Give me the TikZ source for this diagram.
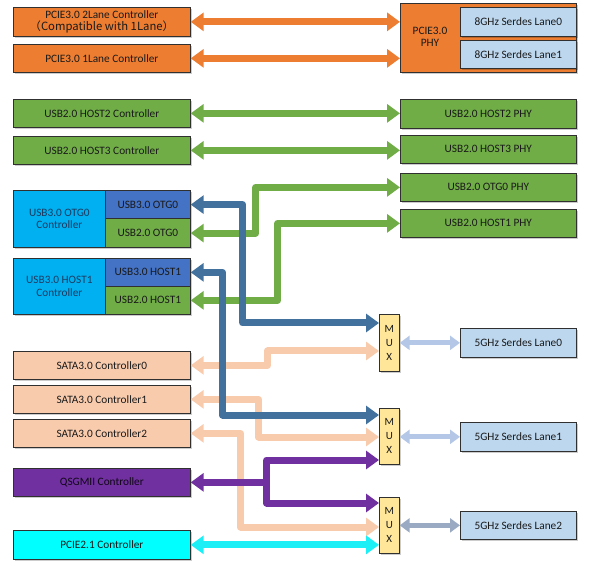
\documentclass[tikz,border=0pt]{standalone}
\usepackage{fontspec}
\setmainfont{Carlito}
\newfontfamily\cjk{Noto Sans CJK SC}
\usetikzlibrary{arrows.meta,shadows}
\definecolor{orng}{HTML}{ED7D31}
\definecolor{grn}{HTML}{70AD47}
\definecolor{lanef}{HTML}{BDD7EE}
\definecolor{cyanb}{HTML}{00B0F0}
\definecolor{blu}{HTML}{4472C4}
\definecolor{bluearr}{HTML}{41719C}
\definecolor{peach}{HTML}{F8CBAD}
\definecolor{purp}{HTML}{7030A0}
\definecolor{cynbox}{HTML}{00FFFF}
\definecolor{cynarr}{HTML}{1CEFF6}
\definecolor{muxf}{HTML}{FFE699}
\definecolor{lanearr}{HTML}{B4C7E7}
\definecolor{lanearrd}{HTML}{9AAAC2}
\definecolor{bord}{HTML}{303030}
\definecolor{navy}{HTML}{1F3A60}
\definecolor{txt}{HTML}{1A1A1A}
\begin{document}
\begin{tikzpicture}[x=1pt,y=-1pt,
  font=\fontsize{11.3}{12.5}\selectfont,
  box/.style={draw=bord, line width=0.7pt, inner sep=0pt, anchor=north west,
    align=center, text=txt,
    drop shadow={shadow xshift=1.2pt, shadow yshift=-1.2pt, opacity=0.2, fill=black}},
  sz/.style 2 args={minimum width=#1pt, minimum height=#2pt},
  bus/.style={line width=7pt, line join=round,
    {Triangle[width=18pt,length=13pt]}-{Triangle[width=18pt,length=13pt]}},
  onebus/.style={line width=7pt, line join=round, -{Triangle[width=18pt,length=13pt]}},
  lanebus/.style={line width=5pt,
    {Triangle[width=14pt,length=10pt]}-{Triangle[width=14pt,length=10pt]}},
  muxbox/.style={box, fill=muxf, sz={20}{56}, font=\fontsize{11}{14}\selectfont}
]
\useasboundingbox (0,0) rectangle (592,569);

% left column
\node[box, fill=orng, sz={177}{29}] (pcie2) at (13,7)
  {PCIE3.0 2Lane Controller\\\cjk{（}Compatible with 1Lane\cjk{）}};
\node[box, fill=orng, sz={177}{28}] (pcie1) at (13,44) {PCIE3.0 1Lane Controller};
\node[box, fill=grn, sz={177}{28}] (h2c) at (13,99) {USB2.0 HOST2 Controller};
\node[box, fill=grn, sz={177}{28}] (h3c) at (13,136) {USB2.0 HOST3 Controller};

\node[box, fill=cyanb, sz={92}{57}, text=navy] (otgc) at (13,190) {USB3.0 OTG0\\Controller};
\node[box, fill=blu, sz={85}{28.5}] (u3otg) at (105,190) {USB3.0 OTG0};
\node[box, fill=grn, sz={85}{28.5}] (u2otg) at (105,218.5) {USB2.0 OTG0};

\node[box, fill=cyanb, sz={92}{56}, text=navy] (h1c) at (13,258) {USB3.0 HOST1\\Controller};
\node[box, fill=blu, sz={85}{28}] (u3h1) at (105,258) {USB3.0 HOST1};
\node[box, fill=grn, sz={85}{28}] (u2h1) at (105,286) {USB2.0 HOST1};

\node[box, fill=peach, sz={177}{28}] (sata0) at (13,351) {SATA3.0 Controller0};
\node[box, fill=peach, sz={177}{28}] (sata1) at (13,385) {SATA3.0 Controller1};
\node[box, fill=peach, sz={177}{28}] (sata2) at (13,419) {SATA3.0 Controller2};
\node[box, fill=purp, sz={177}{28}, text=black!85!purp] (qsg) at (13,468) {QSGMII Controller};
\node[box, fill=cynbox, sz={177}{29}] (pcie21) at (13,530) {PCIE2.1 Controller};

% right column
\node[box, fill=orng, sz={176}{69}] (phy) at (400,3) {};
\node[align=center, text=txt, inner sep=0pt] (phylbl) at (430,37) {PCIE3.0\\PHY};
\node[box, fill=lanef, sz={116}{29}] (s8l0) at (460,7) {8GHz Serdes Lane0};
\node[box, fill=lanef, sz={116}{28}] (s8l1) at (460,40) {8GHz Serdes Lane1};

\node[box, fill=grn, sz={176}{29}] (h2p) at (400,99) {USB2.0 HOST2 PHY};
\node[box, fill=grn, sz={176}{28}] (h3p) at (400,135) {USB2.0 HOST3 PHY};
\node[box, fill=grn, sz={176}{28}] (otgp) at (400,173) {USB2.0 OTG0 PHY};
\node[box, fill=grn, sz={176}{28}] (h1p) at (400,209) {USB2.0 HOST1 PHY};

\node[muxbox, sz={20}{57}] (mux0) at (379,314) {M\\U\\X};
\node[muxbox] (mux1) at (379,408) {M\\U\\X};
\node[muxbox] (mux2) at (379,497) {M\\U\\X};

\node[box, fill=lanef, sz={116}{29}] (l0) at (460,328) {5GHz Serdes Lane0};
\node[box, fill=lanef, sz={116}{29}] (l1) at (460,422) {5GHz Serdes Lane1};
\node[box, fill=lanef, sz={116}{28}] (l2) at (460,511) {5GHz Serdes Lane2};

% orange
\draw[bus, color=orng] (pcie2.east) -- (pcie2.east -| phy.west);
\draw[bus, color=orng] (pcie1.east) -- (pcie1.east -| phy.west);

% peach
\draw[bus, color=peach] (sata0.east) -- ++(77,0) |- (mux0.west |- 0,351);
\draw[bus, color=peach] (sata1.east) -- ++(68,0) |- (mux1.west |- 0,437);
\draw[bus, color=peach] (sata2.east) -- ++(50,0) |- (mux2.west |- 0,527);

% green
\draw[bus, color=grn] (h2c.east) -- (h2c.east -| h2p.west);
\draw[bus, color=grn] (h3c.east) -- (h3c.east -| h3p.west);
\draw[bus, color=grn] (u2otg.east) -- ++(65,0) |- (otgp.west);
\draw[bus, color=grn] (u2h1.east) -- ++(87,0) |- (h1p.west);

% purple
\path (qsg.east) ++(76,0) coordinate (qj);
\draw[bus, color=purp] (qsg.east) -- (qj) |- (mux1.west |- 0,460);
\draw[onebus, color=purp] (qj) |- (mux2.west |- 0,503);

% blue
\draw[bus, color=bluearr] (u3otg.east) -- ++(52,0) |- (mux0.west |- 0,323);
\draw[bus, color=bluearr] (u3h1.east) -- ++(32,0) |- (mux1.west |- 0,415);

% cyan
\draw[bus, color=cynarr] (pcie21.east) -- (pcie21.east -| mux2.west);

% lanes
\draw[lanebus, color=lanearr] (mux0.east |- l0.west) -- (l0.west);
\draw[lanebus, color=lanearr] (mux1.east |- l1.west) -- (l1.west);
\draw[lanebus, color=lanearrd] (mux2.east |- l2.west) -- (l2.west);
\end{tikzpicture}
\end{document}
